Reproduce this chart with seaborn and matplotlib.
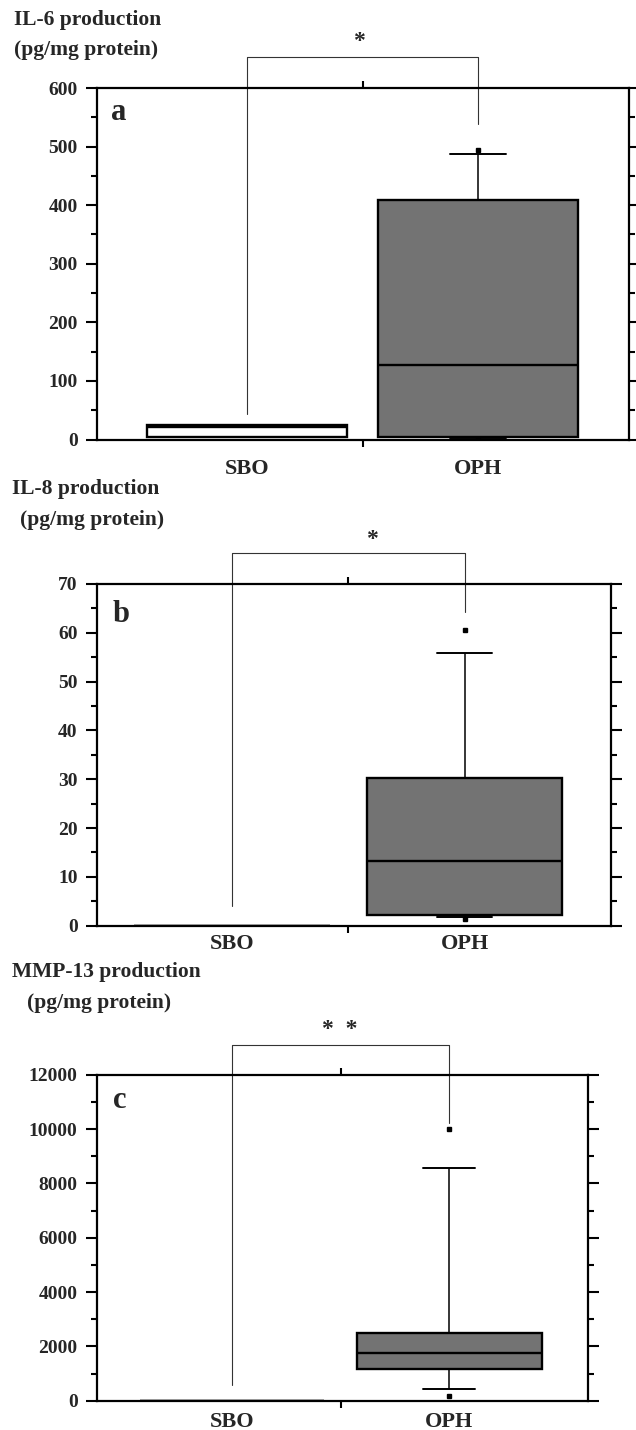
import numpy as np
import pandas as pd
import matplotlib
matplotlib.use("Agg")
import matplotlib.pyplot as plt
import seaborn as sns

# ---------------- data ----------------
groups = ["SBO", "OPH"]

# observations per group (whiskers = 10th/90th percentiles, dots beyond)
il6_sbo = [5, 5, 5, 5, 12, 22, 23, 24, 24, 24, 24]
il6_oph = [0.5, 2.5, 5, 5, 40, 128, 250, 408, 408, 488, 495]

il8_sbo = [0, 0, 0, 0, 0, 0, 0, 0, 0, 0, 0]
il8_oph = [1.3, 1.8, 2.1, 2.1, 6, 13.2, 20, 30.3, 30.3, 55.9, 60.6]

mmp_sbo = [0, 0, 0, 0, 0, 0, 0, 0, 0, 0, 0]
mmp_oph = [173, 432, 1173, 1173, 1450, 1753, 2100, 2506, 2506, 8552, 10000]

titles = [("IL-6 production", "(pg/mg protein)"),
          ("IL-8 production", "(pg/mg protein)"),
          ("MMP-13 production", "(pg/mg protein)")]
letters = ["a", "b", "c"]
y_max = [600, 70, 12000]
y_step = [100, 10, 2000]
# significance bracket: [left leg end, top, right leg end]
brackets = [[43, 653, 539], [4.0, 76.3, 64.3], [580, 13093, 10233]]
stars = ["*", "*", "*  *"]

# ---------------- style ----------------
sns.set_theme(style="ticks")
plt.rcParams["font.family"] = ["Liberation Serif", "DejaVu Serif"]
plt.rcParams["font.weight"] = "bold"

W, H = 636, 1430
fig = plt.figure(figsize=(W / 100, H / 100), dpi=100)


def px_axes(left, top, right, bottom):
    return fig.add_axes([left / W, 1 - bottom / H, (right - left) / W, (bottom - top) / H])


def ftext(x, y, s, **kw):
    fig.text(x / W, 1 - y / H, s, **kw)


axes_px = [(97, 88, 629, 439.5), (97, 584, 611, 925.7), (97, 1074.7, 588, 1400.7)]
xlims = [(-0.65, 1.654), (-0.58, 1.628), (-0.622, 1.64)]
widths = [0.866, 0.838, 0.852]
label_pads = [14, 6, 8]
datasets = [(il6_sbo, il6_oph), (il8_sbo, il8_oph), (mmp_sbo, mmp_oph)]

for i, (sbo, oph) in enumerate(datasets):
    ax = px_axes(*axes_px[i])
    df = pd.DataFrame({"group": ["SBO"] * len(sbo) + ["OPH"] * len(oph),
                       "value": list(sbo) + list(oph)})
    kws = dict(data=df, x="group", y="value", hue="group", order=groups,
               hue_order=groups, palette={"SBO": "white", "OPH": "#737373"},
               whis=(10, 90), width=widths[i], linecolor="black", linewidth=1.7,
               fliersize=2.8, legend=False, ax=ax,
               flierprops=dict(marker="s", markerfacecolor="black",
                               markeredgecolor="black"),
               medianprops=dict(linewidth=1.7, color="black"),
               whiskerprops=dict(linewidth=1.1, color="black"),
               capprops=dict(linewidth=1.4, color="black"))
    try:
        sns.boxplot(**kws, capwidths=0.28 * widths[i])
    except TypeError:
        sns.boxplot(**kws)

    ax.set_xlim(*xlims[i])
    ax.set_ylim(0, y_max[i])
    ax.set_xlabel("")
    ax.set_ylabel("")
    for sp in ax.spines.values():
        sp.set_visible(True)
        sp.set_linewidth(1.6)
        sp.set_color("black")
        sp.set_zorder(6)

    # x axis: category labels + single tick between categories
    ax.set_xticks([0, 1])
    ax.set_xticklabels(groups, fontsize=16, fontweight="bold")
    ax.set_xticks([0.5], minor=True)
    ax.tick_params(axis="x", which="major", length=0, pad=label_pads[i])
    ax.tick_params(axis="x", which="minor", length=5, width=1.5, top=True,
                   bottom=True, direction="out", color="black")

    # y axis
    ax.set_yticks(np.arange(0, y_max[i] + 1, y_step[i]))
    ax.set_yticks(np.arange(y_step[i] / 2, y_max[i], y_step[i]), minor=True)
    ax.tick_params(axis="y", which="both", left=True, right=True,
                   direction="out", width=1.5, color="black",
                   labelsize=14, pad=6)
    ax.tick_params(axis="y", which="major", length=8)
    ax.tick_params(axis="y", which="minor", length=4)
    for lab in ax.get_yticklabels():
        lab.set_fontweight("bold")

    # significance bracket
    l_end, top, r_end = brackets[i]
    ax.plot([0, 0, 1, 1], [l_end, top, top, r_end], color="#333333",
            lw=0.8, clip_on=False, zorder=5)

# titles, stars and panel letters (pixel positions)
title_pos = [((14, 20), (14, 50)), ((12, 489), (20, 520)), ((12, 972), (27, 1003))]
for (t1, t2), ((x1, y1), (x2, y2)) in zip(titles, title_pos):
    ftext(x1, y1, t1, fontsize=15.5, fontweight="bold", ha="left", va="center")
    ftext(x2, y2, t2, fontsize=15.5, fontweight="bold", ha="left", va="center")

star_pos = [(359, 47), (372, 545), (340, 1035)]
for s, (x, y) in zip(stars, star_pos):
    ftext(x, y, s, fontsize=17, fontweight="bold", ha="center", va="baseline")

letter_pos = [(111, 120), (113, 622), (113, 1108)]
for s, (x, y) in zip(letters, letter_pos):
    ftext(x, y, s, fontsize=22, fontweight="bold", ha="left", va="baseline")

fig.savefig("out.png", dpi=100)
